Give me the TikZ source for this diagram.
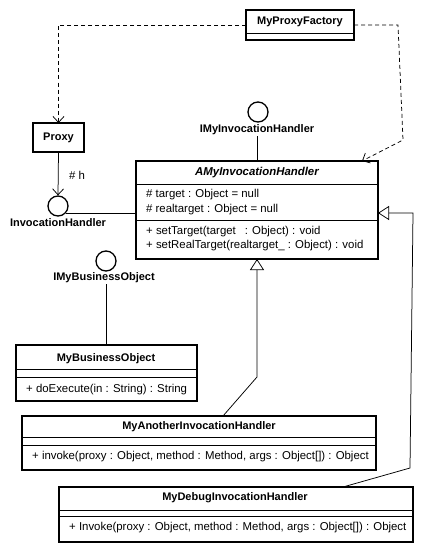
\documentclass[tikz,border=0pt]{standalone}
\usepackage{fontspec}
\setmainfont{Liberation Sans}
\usetikzlibrary{arrows.meta,calc}
\begin{document}
\begin{tikzpicture}[x=1pt,y=-1pt,
  font=\fontsize{11.4}{13}\selectfont,
  cls/.style={draw,line width=1.4pt,anchor=north west,inner sep=0pt,outer sep=0pt},
  div/.style={line width=0.8pt},
  ttl/.style={font=\fontsize{11}{13}\selectfont\bfseries,inner sep=0pt},
  mem/.style={anchor=west,inner sep=0pt},
  iface/.style={draw,circle,line width=1.3pt,minimum size=20pt,inner sep=0pt},
  ilabel/.style={font=\fontsize{11}{13}\selectfont\bfseries,inner sep=1pt},
  conn/.style={line width=0.75pt},
  dep/.style={conn,dash pattern=on 4pt off 3pt,-{Straight Barb[length=6pt,width=11pt]}},
  gen/.style={conn,-{Triangle[open,length=11pt,width=14pt,line width=0.75pt]}},
  nav/.style={conn,-{Straight Barb[length=6pt,width=11pt]}}
]
\useasboundingbox[fill=white] (0,0) rectangle (424,551);

% MyProxyFactory
\node[cls,minimum width=108pt,minimum height=30pt] (pf) at (246,10) {};
\node[ttl] (pft) at (300,22) {MyProxyFactory};
\draw[div] (pf.west |- 0,33) -- (pf.east |- 0,33);

% Proxy
\node[cls,minimum width=51pt,minimum height=29pt] (proxy) at (33,123) {};
\node[ttl] (proxyt) at (proxy.center) {Proxy};

% AMyInvocationHandler
\node[cls,minimum width=242pt,minimum height=98pt] (amy) at (136,161) {};
\node[ttl,font=\fontsize{11.4}{13}\selectfont\bfseries\itshape] (amyt) at (257,173) {AMyInvocationHandler};
\draw[div] (amy.west |- 0,184) -- (amy.east |- 0,184);
\draw[div] (amy.west |- 0,220) -- (amy.east |- 0,220);
\node[mem] (amy1) at (146,195) {\# target : Object = null};
\node[mem] (amy2) at (146,210) {\# realtarget : Object = null};
\node[mem] (amy3) at (146,232) {+ setTarget(target\hspace{9pt}: Object) : void};
\node[mem] (amy4) at (146,246) {+ setRealTarget(realtarget\_ : Object) : void};

% MyBusinessObject
\node[cls,minimum width=181pt,minimum height=56pt] (mbo) at (16,345) {};
\node[ttl] (mbot) at (106,359) {MyBusinessObject};
\draw[div] (mbo.west |- 0,369) -- (mbo.east |- 0,369);
\draw[div] (mbo.west |- 0,377) -- (mbo.east |- 0,377);
\node[mem] (mbo1) at (26,390) {+ doExecute(in : String) : String};

% MyAnotherInvocationHandler
\node[cls,minimum width=354pt,minimum height=54pt] (mah) at (22,416) {};
\node[ttl] (maht) at (199,427) {MyAnotherInvocationHandler};
\draw[div] (mah.west |- 0,437) -- (mah.east |- 0,437);
\draw[div] (mah.west |- 0,445) -- (mah.east |- 0,445);
\node[mem] (mah1) at (32,457) {+ invoke(proxy : Object, method : Method, args : Object[]) : Object};

% MyDebugInvocationHandler
\node[cls,minimum width=354pt,minimum height=55pt] (mdh) at (59,487) {};
\node[ttl] (mdht) at (235,498) {MyDebugInvocationHandler};
\draw[div] (mdh.west |- 0,510) -- (mdh.east |- 0,510);
\draw[div] (mdh.west |- 0,516) -- (mdh.east |- 0,516);
\node[mem] (mdh1) at (69,528) {+ Invoke(proxy : Object, method : Method, args : Object[]) : Object};

% Interfaces
\node[iface] (imih) at (258,112) {};
\node[ilabel] (imihl) at (257,130) {IMyInvocationHandler};
\node[iface] (ih) at (58,206) {};
\node[ilabel] (ihl) at (58,223) {InvocationHandler};
\node[iface] (imbo) at (106,261) {};
\node[ilabel] (imbol) at (104,278) {IMyBusinessObject};

% helper coordinates
\coordinate (r1) at (398,25);
\coordinate (r2) at (403,140);
\coordinate (rx) at (362,0);
\coordinate (g0) at (223,0);
\coordinate (g1) at (257,377);
\coordinate (g2) at (257,0);
\coordinate (h0) at (343,0);
\coordinate (h1) at (410,468);
\coordinate (h2) at (413,213);

% Connectors
\draw[dep] (pf.west) -| (proxy.north);
\draw[dep] (pf.east) -- (r1) -- (r2) -- (amy.north -| rx);
\draw[conn] (imihl.south) -- (imihl.south |- amy.north);
\draw[nav] (proxy.south) -- (ih.north);
\node[inner sep=0pt] (hlab) at (77,175) {\# h};
\draw[conn] (ih.-45) -- (ih.-45 -| amy.west);
\draw[conn] (imbo.south |- imbol.south) -- (imbo.south |- mbo.north);
\draw[gen] (mah.north -| g0) -- (g1) -- (amy.south -| g2);
\draw[gen] (mdh.north -| h0) -- (h1) -- (h2) -- (h2 -| amy.east);
\end{tikzpicture}
\end{document}
